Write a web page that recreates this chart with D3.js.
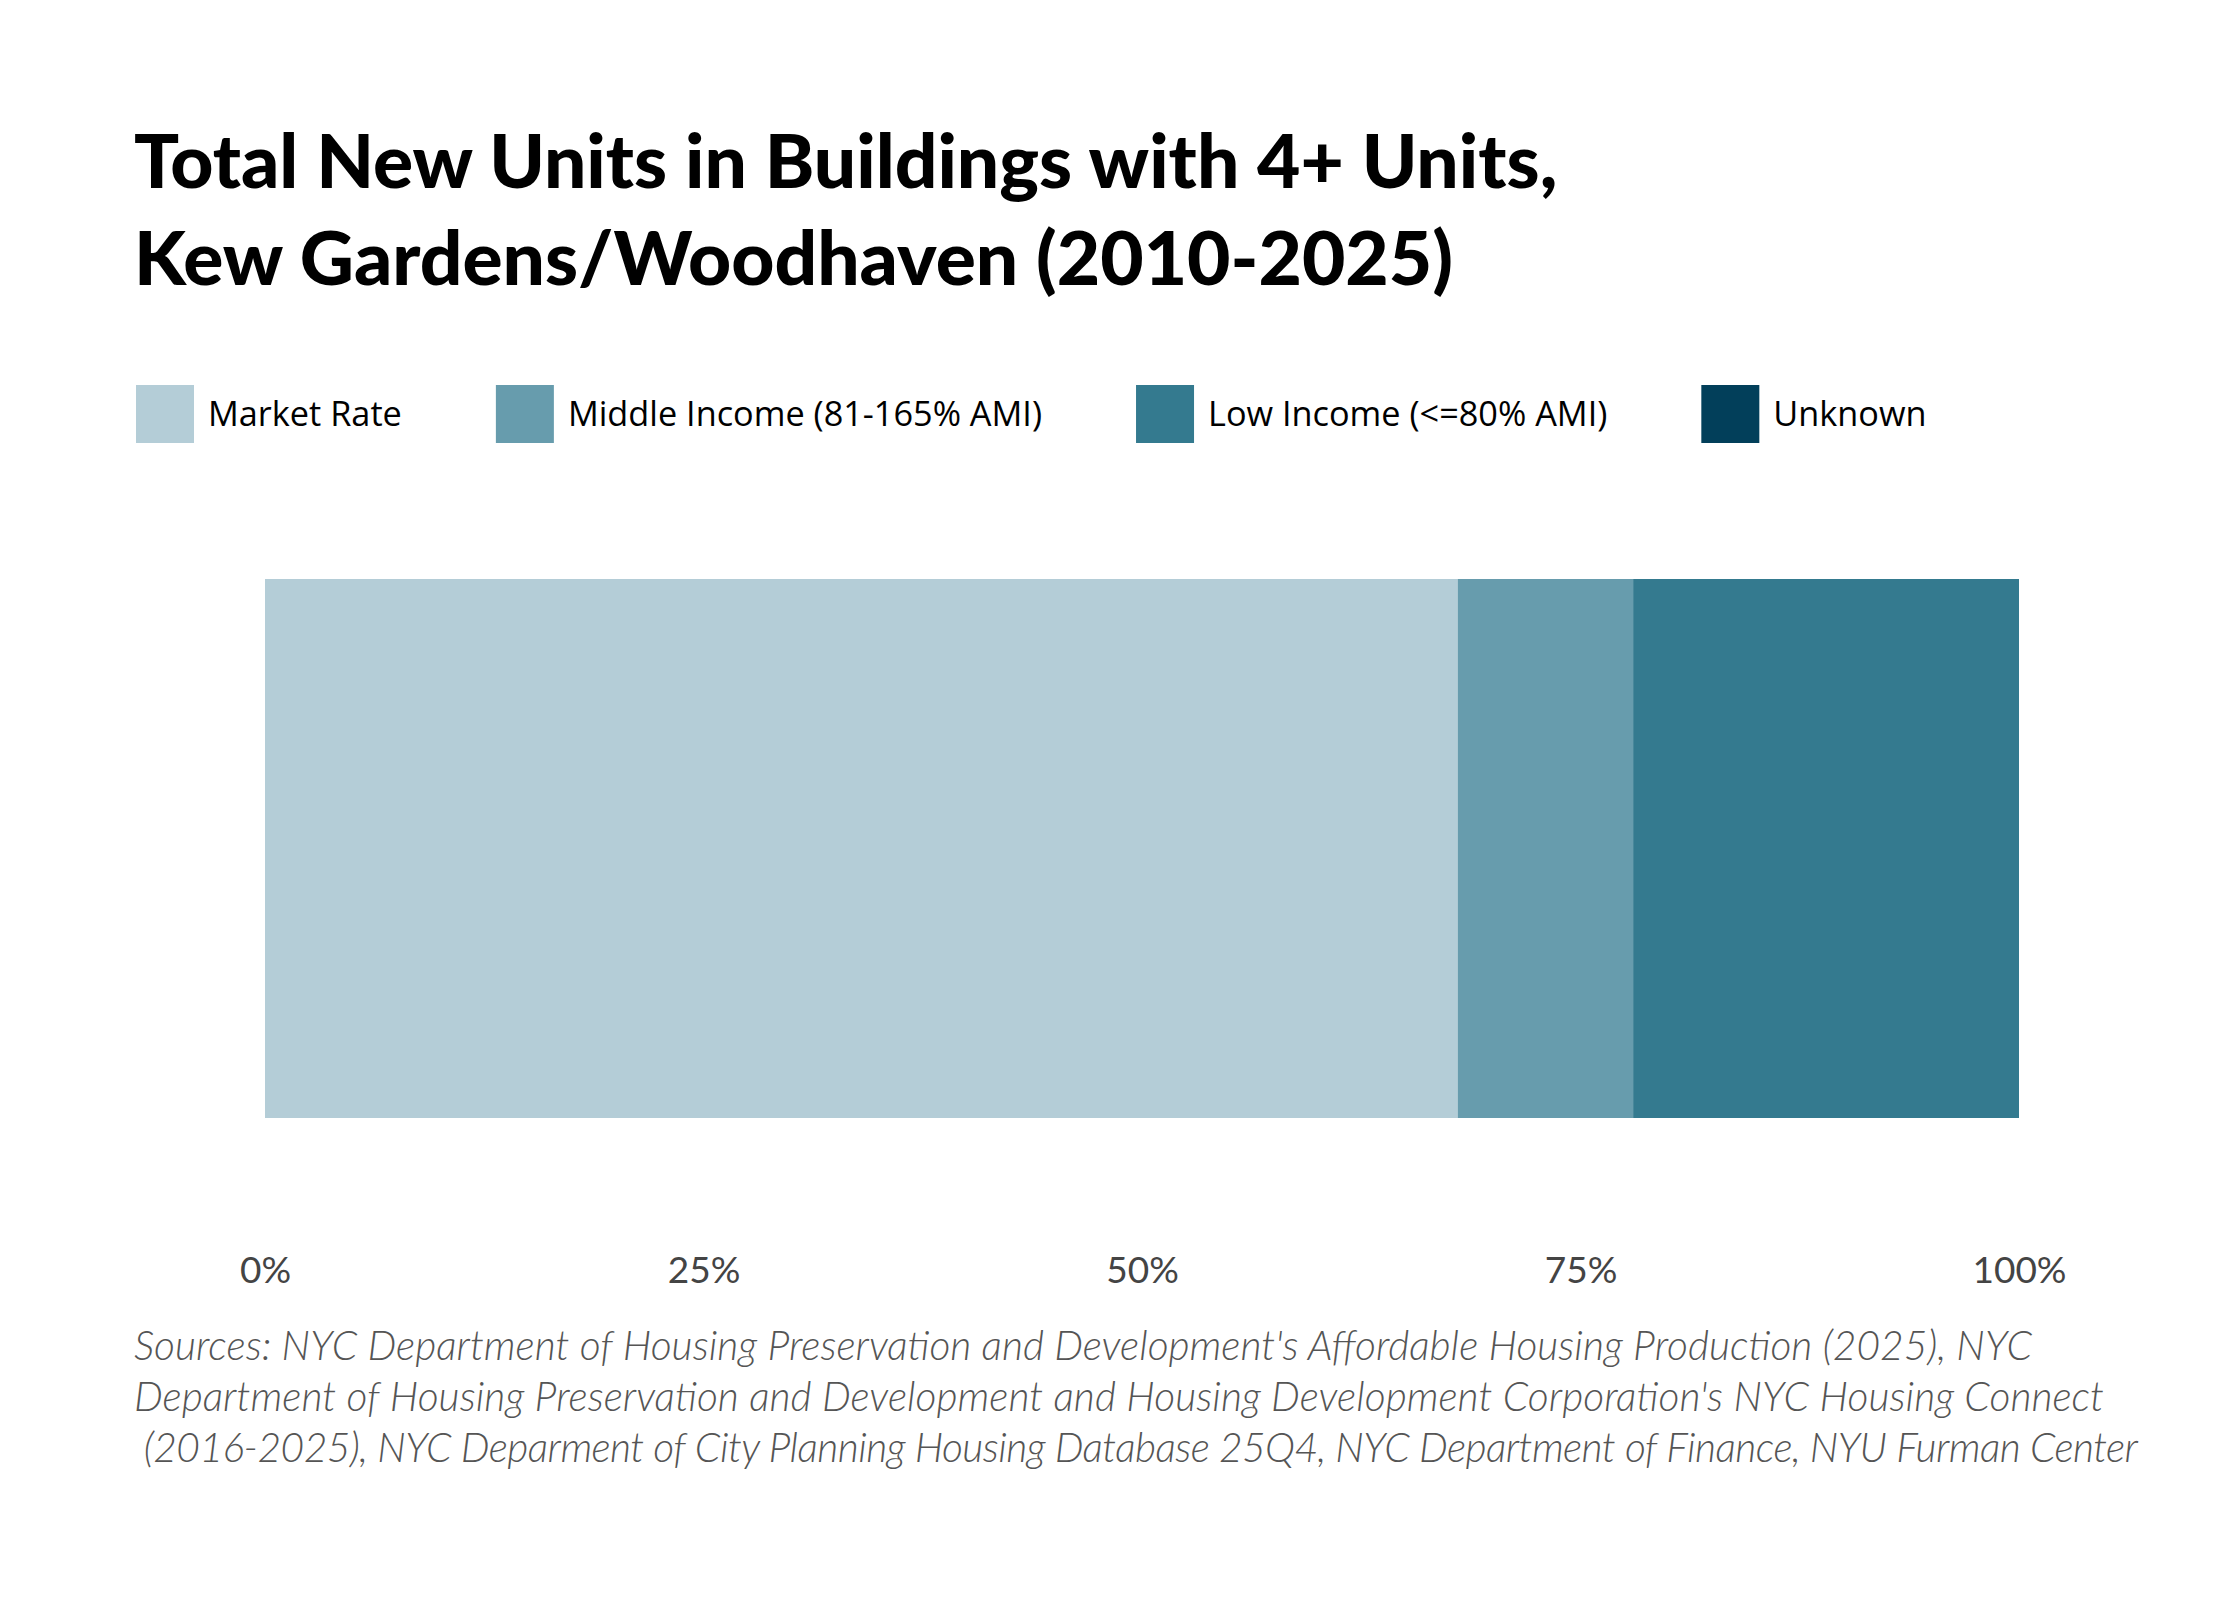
<!DOCTYPE html>
<html>
<head>
<meta charset="utf-8">
<script src="https://cdn.jsdelivr.net/npm/d3@7"></script>
<style>
  body { margin: 0; background: #fff; }
  svg text { white-space: pre; }
</style>
</head>
<body>
<svg id="chart"></svg>
<script>
// Chart data
const categories = ["Market Rate", "Middle Income (81-165% AMI)", "Low Income (<=80% AMI)", "Unknown"]
const shares = [68, 10, 22, 0]
const colors = ["#b4cdd7", "#679cad", "#347a8f", "#023f5a"]
const area = ["Kew Gardens/Woodhaven"]
const tickValues = [0, 25, 50, 75, 100]
const titleLines = [
    "Total New Units in Buildings with 4+ Units,",
    "Kew Gardens/Woodhaven (2010-2025)"
]
const sourceLines = [
    "Sources: NYC Department of Housing Preservation and Development's Affordable Housing Production (2025), NYC",
    "Department of Housing Preservation and Development and Housing Development Corporation's NYC Housing Connect",
    " (2016-2025), NYC Deparment of City Planning Housing Database 25Q4, NYC Department of Finance, NYU Furman Center"
]

let width = 2240,
    height = 1600,
    left = 134

let svg = d3.select('#chart')
    .attr('width', width)
    .attr('height', height)

svg.append('rect')
    .attr('width', width)
    .attr('height', height)
    .attr('fill', '#fff')

// font size that makes a text span a given width
function fitSize(sel, target) {
    return +sel.attr('font-size') * target / sel.node().getComputedTextLength()
}

// Title
let title = svg.append('g')
    .attr('font-family', 'Lato, sans-serif')
    .attr('font-weight', 900)
    .attr('fill', '#000')

let titleText = title.selectAll('text')
    .data(titleLines)
    .enter()
    .append('text')
    .attr('x', left)
    .attr('y', (d, i) => 188 + i * 97)
    .attr('font-size', 64)
    .text(d => d)

let titleWidths = [1455, 1290],
    titleSize = d3.mean(titleText.nodes(), (n, i) => fitSize(d3.select(n), titleWidths[i]))
titleText.attr('font-size', titleSize)

// Legend
let legend = svg.append('g')
    .attr('font-family', '"Open Sans", sans-serif')

// size the legend font from the first label's width
let probe = legend.append('text').attr('font-size', 31).text(categories[0])
legend.attr('font-size', fitSize(probe, 194))
probe.remove()

let lx = 136
categories.forEach((c, i) => {
    let item = legend.append('g').attr('transform', `translate(${lx},385)`)
    item.append('rect')
        .attr('width', 58)
        .attr('height', 58)
        .attr('fill', colors[i])
    let t = item.append('text')
        .attr('x', 72)
        .attr('y', 41)
        .attr('fill', '#000')
        .text(c)
    lx += 72 + t.node().getComputedTextLength() + 94
})

// Bar
let xScale = d3.scaleLinear().domain([0, 100]).range([265, 2019]),
    yScale = d3.scaleBand().domain(area).range([579, 1118])

let rows = [Object.fromEntries(categories.map((c, i) => [c, shares[i]]))]
let series = d3.stack().keys(categories)(rows)

svg.append('g')
    .attr('id', 'bars')
    .selectAll('rect')
    .data(series)
    .enter()
    .append('rect')
    .attr('x', d => xScale(d[0][0]))
    .attr('width', d => xScale(d[0][1]) - xScale(d[0][0]))
    .attr('y', yScale(area[0]))
    .attr('height', yScale.bandwidth())
    .attr('fill', (d, i) => colors[i])

// Axis
let axis = svg.append('g')
    .attr('transform', 'translate(0,1257)')
    .call(d3.axisBottom(xScale)
        .tickValues(tickValues)
        .tickFormat(d => d + '%')
        .tickSize(0)
        .tickPadding(0))

axis.select('.domain').remove()
axis.selectAll('text')
    .attr('font-family', 'Lato, sans-serif')
    .attr('font-size', 37)
    .attr('fill', '#444')

// Sources
let sources = svg.append('g')
    .attr('font-family', 'Lato, sans-serif')
    .attr('font-style', 'italic')
    .attr('font-weight', 300)
    .attr('fill', '#555')

let sourceText = sources.selectAll('text')
    .data(sourceLines)
    .enter()
    .append('text')
    .attr('x', left)
    .attr('y', (d, i) => 1360 + i * 51)
    .attr('font-size', 33)
    .text(d => d)

sourceText.attr('font-size', fitSize(sources.select('text'), 1898))
let sourceWidths = [1898, 1970, 2004]
sourceText
    .attr('textLength', (d, i) => sourceWidths[i])
    .attr('lengthAdjust', 'spacing')
</script>
</body>
</html>
